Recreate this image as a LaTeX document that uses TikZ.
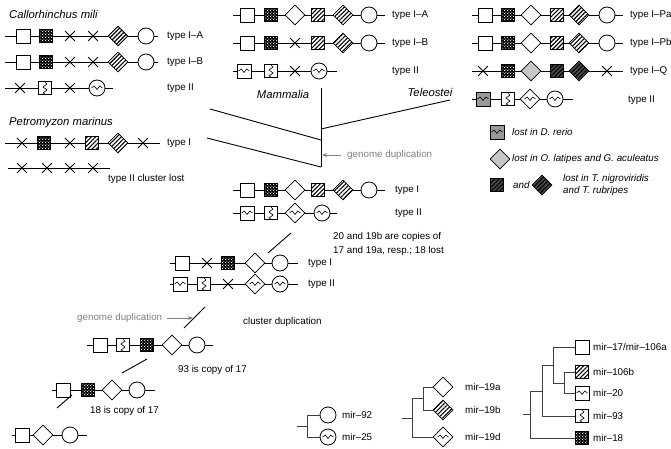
\documentclass[tikz,border=0pt]{standalone}
\usepackage{fontspec}
\setmainfont{Liberation Sans}
\usetikzlibrary{arrows.meta, shapes.geometric, shapes.misc, patterns, patterns.meta}

% white blobs on black, for mir-18
\pgfdeclarepatternformonly{blobs}{\pgfqpoint{0pt}{0pt}}{\pgfqpoint{3pt}{3pt}}{\pgfqpoint{3pt}{3pt}}{%
  \pgfpathcircle{\pgfqpoint{0.75pt}{0.75pt}}{0.65pt}%
  \pgfpathcircle{\pgfqpoint{2.25pt}{2.25pt}}{0.65pt}%
  \pgfusepath{fill}}

\newcommand{\hzig}{\draw[line width=0.6pt] ([xshift=-5.5pt]path picture bounding box.center)
  -- ++(2.75pt,2pt) -- ++(2.75pt,-3.5pt) -- ++(2.75pt,3.5pt) -- ++(2.75pt,-2pt);}
\newcommand{\vzig}{\draw[line width=0.6pt] ([yshift=6pt]path picture bounding box.center)
  -- ++(2pt,-2pt) -- ++(-4pt,-3pt) -- ++(4pt,-3pt) -- ++(-4pt,-3pt) -- ++(2pt,-1pt);}

% one gene cluster: name, y, line start, line end, x/glyph list
\newcommand{\genecluster}[5]{%
  \coordinate (#1-a) at (#3,#2);
  \coordinate (#1-b) at (#4,#2);
  \draw[backbone] (#1-a) -- (#1-b);
  \foreach \gx/\gs [count=\gi] in {#5}
    \node[\gs] (#1-\gi) at (\gx,#2) {};
}

\begin{document}
\begin{tikzpicture}[x=1pt, y=-1pt,
    gene/.style={draw, inner sep=0pt, line width=0.8pt},
    sqr/.style={gene, rectangle, minimum size=14pt, fill=white},
    dsq/.style={gene, rectangle, minimum size=13pt, preaction={fill=black}, pattern=blobs, pattern color=white},
    hsq/.style={gene, rectangle, minimum size=13pt, preaction={fill=white}, pattern={Lines[angle=45,distance=3pt,line width=1.1pt]}},
    dhsq/.style={gene, rectangle, minimum size=13pt, preaction={fill=black!70}, pattern={Lines[angle=45,distance=3pt,line width=1.1pt]}},
    wsq/.style={sqr, path picture={\hzig}},
    gwsq/.style={sqr, fill=black!40, path picture={\hzig}},
    zsq/.style={sqr, minimum size=13pt, path picture={\vzig}},
    dia/.style={gene, diamond, minimum width=20pt, minimum height=20pt, fill=white},
    gdia/.style={dia, fill=black!22},
    wdia/.style={dia, path picture={\hzig}},
    hdia/.style={gene, diamond, minimum width=20pt, minimum height=20pt, preaction={fill=white}, pattern={Lines[angle=45,distance=3pt,line width=1.1pt]}},
    dhdia/.style={gene, diamond, minimum width=20pt, minimum height=20pt, preaction={fill=black!70}, pattern={Lines[angle=45,distance=3pt,line width=1.1pt]}},
    circ/.style={gene, circle, minimum size=16pt, fill=white},
    wcirc/.style={circ, path picture={\hzig}},
    lost/.style={gene, cross out, minimum size=9pt},
    backbone/.style={line width=0.8pt},
    branch/.style={line width=0.9pt},
    tree/.style={draw=black!75, line width=1pt},
    lbl/.style={font=\fontsize{9.8}{12}\selectfont, anchor=west, inner sep=0pt},
    note/.style={lbl, text=black!50},
    taxon/.style={font=\fontsize{11.3}{13}\selectfont\itshape, inner sep=0pt}]
\useasboundingbox (0,0) rectangle (671,449);

% Callorhinchus mili
\node[taxon, anchor=west] (cmili) at (9,14) {Callorhinchus mili};
\genecluster{c1}{36}{5}{158}{23/sqr,46/dsq,70/lost,93/lost,118/hdia,146/circ}
\genecluster{c2}{62}{5}{158}{23/sqr,46/dsq,70/lost,93/lost,118/hdia,146/circ}
\genecluster{c3}{88}{5}{113}{20/lost,45/zsq,70/lost,97/wcirc}
\node[lbl] (c1-t) at (167,36) {type I--A};
\node[lbl] (c2-t) at (167,62) {type I--B};
\node[lbl] (c3-t) at (167,88) {type II};

% Petromyzon marinus
\node[taxon, anchor=west] (pmar) at (9,123) {Petromyzon marinus};
\genecluster{p1}{143}{5}{160}{22/lost,44/dsq,70/lost,92/hsq,118/hdia,143/lost}
\genecluster{p2}{168}{8}{110}{22/lost,47/lost,70/lost,93/lost}
\node[lbl] (p1-t) at (167,143) {type I};
\node[lbl] (p2-t) at (108,179) {type II cluster lost};

% Mammalia
\genecluster{m1}{15}{233}{385}{247/sqr,271/dsq,295/dia,318/hsq,343/hdia,369/circ}
\genecluster{m2}{43}{233}{385}{247/sqr,271/dsq,295/lost,318/hsq,343/hdia,369/circ}
\genecluster{m3}{71}{233}{337}{244/wsq,271/zsq,295/lost,319/wcirc}
\node[lbl] (m1-t) at (392,15) {type I--A};
\node[lbl] (m2-t) at (392,43) {type I--B};
\node[lbl] (m3-t) at (392,71) {type II};
\node[taxon] (mam) at (283,94) {Mammalia};

% Teleostei
\genecluster{t1}{15}{472}{623}{485/sqr,508/dsq,531/dia,557/hsq,579/hdia,607/circ}
\genecluster{t2}{43}{472}{623}{485/sqr,508/dsq,531/dia,557/hsq,579/hdia,607/circ}
\genecluster{t3}{71}{472}{623}{483/lost,508/dsq,531/gdia,557/dhsq,579/dhdia,607/lost}
\genecluster{t4}{99}{472}{573}{483/gwsq,508/zsq,530/wdia,555/wcirc}
\node[lbl] (t1-t) at (630,15) {type I--Pa};
\node[lbl] (t2-t) at (630,43) {type I--Pb};
\node[lbl] (t3-t) at (630,71) {type I--Q};
\node[lbl] (t4-t) at (628,100) {type II};
\node[taxon] (tel) at (430,92) {Teleostei};

% legend
\node[gwsq] (lg1) at (497,132) {};
\node[lbl, font=\fontsize{9.8}{12}\selectfont\itshape] (lg1-t) at (512,132) {lost in D. rerio};
\node[gdia] (lg2) at (500,159) {};
\node[lbl, font=\fontsize{9.8}{12}\selectfont\itshape] (lg2-t) at (512,159) {lost in O. latipes and G. aculeatus};
\node[dhsq] (lg3) at (497,185) {};
\node[lbl, font=\fontsize{9.8}{12}\selectfont\itshape] (lg3-and) at (513,185) {and};
\node[dhdia] (lg4) at (542,185) {};
\node[lbl, align=left, font=\fontsize{9.8}{12}\selectfont\itshape] (lg4-t) at (563,185) {lost in T. nigroviridis\\and T. rubripes};

% vertebrate tree
\coordinate (vtop) at (321,88);
\coordinate (vbot) at (321,167);
\coordinate (vcm) at (321,140);
\coordinate (vtel) at (321,129);
\coordinate (cmend) at (210,109);
\coordinate (pmend) at (207,138);
\coordinate (telend) at (450,100);
\draw[branch] (vtop) -- (vbot);
\draw[branch] (vcm) -- (cmend);
\draw[branch] (vbot) -- (pmend);
\draw[branch] (vtel) -- (telend);
\coordinate (dup1) at (322,155);
\node[note] (gd1) at (347,155) {genome duplication};
\draw[draw=black!50, line width=0.8pt, -{Stealth[length=5pt,width=4pt]}] ([xshift=-6pt]gd1.west) -- (dup1);

% ancestral vertebrate cluster
\genecluster{a1}{190}{233}{385}{247/sqr,271/dsq,295/dia,318/hsq,343/hdia,369/circ}
\genecluster{a2}{213}{233}{337}{247/wsq,271/zsq,295/wdia,322/wcirc}
\node[lbl] (a1-t) at (395,190) {type I};
\node[lbl] (a2-t) at (395,213) {type II};
\node[lbl, align=left, font=\fontsize{9.8}{14}\selectfont] (a-note) at (333,244) {20 and 19b are copies of\\17 and 19a, resp.; 18 lost};
\coordinate (ab1) at (291,233);
\coordinate (ab2) at (268,253);
\draw[branch] (ab1) -- (ab2);

% before genome duplication
\genecluster{b1}{263}{170}{298}{182/sqr,207/lost,228/dsq,255/dia,280/circ}
\genecluster{b2}{284}{170}{298}{180/wsq,204/zsq,228/lost,255/wdia,280/wcirc}
\node[lbl] (b1-t) at (308,263) {type I};
\node[lbl] (b2-t) at (308,284) {type II};
\node[lbl] (cdup) at (243,322) {cluster duplication};
\coordinate (bc1) at (205,307);
\coordinate (bc2) at (184,328);
\draw[branch] (bc1) -- (bc2);
\node[note] (gd2) at (77,318) {genome duplication};
\coordinate (dup2) at (193,318);
\draw[draw=black!50, line width=0.8pt, -{Stealth[length=5pt,width=4pt]}] ([xshift=5pt]gd2.east) -- (dup2);

% before cluster duplication
\genecluster{r1}{345}{87}{213}{100/sqr,123/zsq,147/dsq,172/dia,197/circ}
\node[lbl] (r1-t) at (178,370) {93 is copy of 17};
\coordinate (rc1) at (147,359);
\coordinate (rc2) at (122,373);
\draw[branch] (rc1) -- (rc2);
\genecluster{r2}{390}{52}{155}{63/sqr,88/dsq,112/dia,137/circ}
\node[lbl] (r2-t) at (90,411) {18 is copy of 17};
\coordinate (rd1) at (72,395);
\coordinate (rd2) at (57,408);
\draw[branch] (rd1) -- (rd2);
\genecluster{r3}{435}{12}{87}{22/sqr,43/dia,70/circ}

% mir-92 / mir-25
\node[circ] (l92) at (328,415) {};
\node[wcirc] (l25) at (328,437) {};
\node[lbl] (l92-t) at (342,415) {mir--92};
\node[lbl] (l25-t) at (342,437) {mir--25};
\coordinate (k0) at (297,426);
\coordinate (k1) at (307,426);
\draw[tree] (k0) -- (k1);
\draw[tree] (k1) |- (l92);
\draw[tree] (k1) |- (l25);

% mir-19 family
\node[dia] (l19a) at (443,387) {};
\node[hdia] (l19b) at (443,410) {};
\node[wdia] (l19d) at (443,437) {};
\node[lbl] (l19a-t) at (465,387) {mir--19a};
\node[lbl] (l19b-t) at (465,410) {mir--19b};
\node[lbl] (l19d-t) at (465,437) {mir--19d};
\coordinate (n0) at (402,418);
\coordinate (n1) at (412,418);
\coordinate (n2) at (423,398);
\draw[tree] (n0) -- (n1);
\draw[tree] (n1) |- (n2);
\draw[tree] (n1) |- (l19d);
\draw[tree] (n2) |- (l19a);
\draw[tree] (n2) |- (l19b);

% mir-17 family
\node[sqr] (l17) at (582,347) {};
\node[hsq] (l106b) at (582,372) {};
\node[wsq] (l20) at (582,393) {};
\node[zsq] (l93) at (582,416) {};
\node[dsq] (l18) at (582,438) {};
\node[lbl] (l17-t) at (593,347) {mir--17/mir--106a};
\node[lbl] (l106b-t) at (593,372) {mir--106b};
\node[lbl] (l20-t) at (593,393) {mir--20};
\node[lbl] (l93-t) at (593,416) {mir--93};
\node[lbl] (l18-t) at (593,438) {mir--18};
\coordinate (s0) at (523,414);
\coordinate (s1) at (530,414);
\coordinate (s2) at (542,391);
\coordinate (s3) at (553,365);
\coordinate (s4) at (564,383);
\draw[tree] (s0) -- (s1);
\draw[tree] (s1) |- (s2);
\draw[tree] (s1) |- (l18);
\draw[tree] (s2) |- (s3);
\draw[tree] (s2) |- (l93);
\draw[tree] (s3) |- (l17);
\draw[tree] (s3) |- (s4);
\draw[tree] (s4) |- (l106b);
\draw[tree] (s4) |- (l20);
\end{tikzpicture}
\end{document}
